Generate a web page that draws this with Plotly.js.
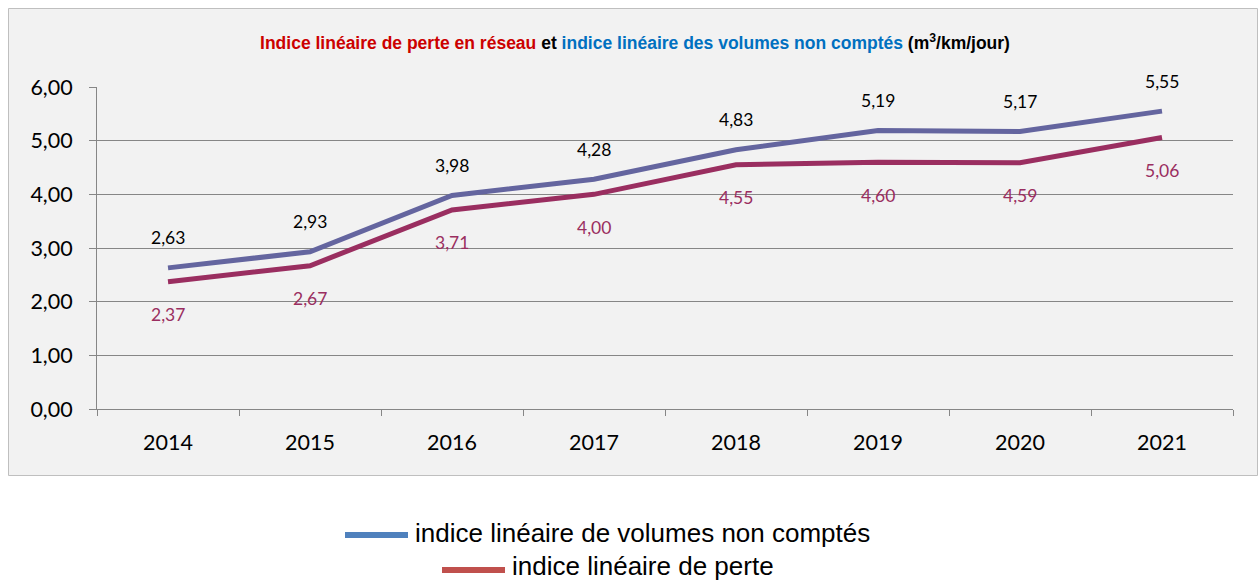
<!DOCTYPE html>
<html><head><meta charset="utf-8">
<script src="https://cdn.plot.ly/plotly-3.0.1.min.js"></script>
<style>html,body{margin:0;padding:0;background:#fff}#chart{width:1259px;height:583px}</style>
</head><body><div id="chart"></div>
<script>
const years = ['2014','2015','2016','2017','2018','2019','2020','2021'];
const volumesNonComptes = [2.63, 2.93, 3.98, 4.28, 4.83, 5.19, 5.17, 5.55];
const perte = [2.37, 2.67, 3.71, 4.00, 4.55, 4.60, 4.59, 5.06];
const nameVolumes = 'indice linéaire de volumes non comptés';
const namePerte = 'indice linéaire de perte';
const yTicks = [0, 1, 2, 3, 4, 5, 6];

const fmt = v => v.toFixed(2).replace('.', ',');
const L = 97, R = 1233, T = 87, B = 409, W = 1259, H = 583;
const px = x => (x - L) / (R - L);
const py = y => (B - y) / (B - T);
const legendFont = {family: '"Liberation Sans", Arial, sans-serif', size: 26, color: '#000'};

const traces = [
  {x: years, y: volumesNonComptes, name: nameVolumes, mode: 'lines', line: {color: '#64659f', width: 5}, showlegend: false, hoverinfo: 'skip'},
  {x: years, y: perte, name: namePerte, mode: 'lines', line: {color: '#9a2e60', width: 5}, showlegend: false, hoverinfo: 'skip'}
];

const annotations = [];
years.forEach((yr, i) => {
  annotations.push({x: i, y: volumesNonComptes[i], xref: 'x', yref: 'y', text: fmt(volumesNonComptes[i]), showarrow: false, yshift: 30,
    font: {family: 'Lato, sans-serif', size: 17.5, color: '#000'}});
  annotations.push({x: i, y: perte[i], xref: 'x', yref: 'y', text: fmt(perte[i]), showarrow: false, yshift: -33,
    font: {family: 'Lato, sans-serif', size: 17.5, color: '#9a2e60'}});
});
// legend (drawn as keys + labels to match the long key lines of the reference)
const legendItems = [
  {name: nameVolumes, color: '#4f81bd', x0: 345, x1: 408, y: 535, tx: 414, ty: 533},
  {name: namePerte, color: '#c0504d', x0: 442, x1: 505, y: 570, tx: 511, ty: 566}
];
const shapes = [{
  type: 'rect', xref: 'paper', yref: 'paper', layer: 'below',
  x0: px(8.5), x1: px(1257.5), y0: py(475.5), y1: py(8.5),
  fillcolor: '#f2f2f2', line: {color: '#bfbfbf', width: 1}
}];
legendItems.forEach(it => {
  shapes.push({type: 'line', xref: 'paper', yref: 'paper', x0: px(it.x0), x1: px(it.x1), y0: py(it.y), y1: py(it.y),
    line: {color: it.color, width: 6}});
  annotations.push({xref: 'paper', yref: 'paper', x: px(it.tx), y: py(it.ty), xanchor: 'left', yanchor: 'middle',
    text: it.name, showarrow: false, font: legendFont, borderpad: 0});
});

const layout = {
  width: W, height: H,
  margin: {l: L, r: W - R, t: T, b: H - B, pad: 0},
  paper_bgcolor: '#ffffff',
  plot_bgcolor: 'rgba(0,0,0,0)',
  separators: ', ',
  showlegend: false,
  title: {
    text: '<b><span style="color:#cc0000">Indice linéaire de perte en réseau</span> et <span style="color:#0070c0">indice linéaire des volumes non comptés</span> (m<sup>3</sup>/km/jour)</b>',
    font: {family: '"Liberation Sans", Arial, sans-serif', size: 17.5, color: '#000'},
    x: px(635), xref: 'paper', xanchor: 'center',
    y: 1 - 43 / H, yref: 'container', yanchor: 'middle'
  },
  xaxis: {
    type: 'category', range: [-0.5, 7.5],
    showline: true, linecolor: '#868686', linewidth: 1,
    ticks: 'outside', tickson: 'boundaries', ticklen: 6, tickcolor: '#868686',
    showgrid: false, zeroline: false,
    tickfont: {family: 'Lato, sans-serif', size: 21.5, color: '#000'},
    ticklabelstandoff: 14, fixedrange: true
  },
  yaxis: {
    range: [0, 6], tickvals: yTicks, ticktext: yTicks.map(fmt),
    showline: true, linecolor: '#868686', linewidth: 1,
    ticks: 'outside', ticklen: 7, tickcolor: '#868686',
    showgrid: true, gridcolor: '#868686', gridwidth: 1, zeroline: false,
    tickfont: {family: 'Lato, sans-serif', size: 21.5, color: '#000'},
    ticklabelstandoff: 12, fixedrange: true
  },
  shapes: shapes,
  annotations: annotations
};

Plotly.newPlot('chart', traces, layout, {displayModeBar: false, staticPlot: true});
</script></body></html>
